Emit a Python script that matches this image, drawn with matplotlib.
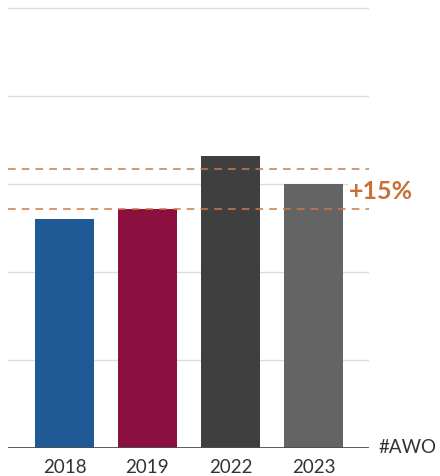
import matplotlib
matplotlib.use('Agg')
import matplotlib.pyplot as plt

years = ['2018', '2019', '2022', '2023']
values = [2.60, 2.72, 3.32, 3.00]
colors = ['#1f5a96', '#8b1040', '#3f3f3f', '#646464']
ref_low = 2.72
ref_high = 3.17
grid_levels = [1, 2, 3, 4, 5]

plt.rcParams['font.family'] = ['Lato', 'DejaVu Sans']

fig = plt.figure(figsize=(4.4, 4.77), dpi=100)
ax = fig.add_axes([8 / 440, 1 - 449 / 477, (369 - 8) / 440, 449 / 477])

for g in grid_levels:
    ax.axhline(g, color='#dcdcdc', linewidth=1.0, zorder=0)

x = range(len(years))
ax.bar(x, values, width=0.71, color=colors, zorder=2)

for lvl in (ref_low, ref_high):
    ax.axhline(lvl, color='#cc7a45', linewidth=1.1, linestyle=(0, (5, 4)), zorder=3)

ax.axhline(0, color='#4d4d4d', linewidth=2, zorder=4)

ax.set_xlim(-0.68, 3.67)
ax.set_ylim(0, 5.1)
ax.set_xticks(list(x))
ax.set_xticklabels(years, fontsize=13.5, color='#333333')
ax.tick_params(axis='x', length=0, pad=7)
ax.set_yticks([])
for s in ax.spines.values():
    s.set_visible(False)

# label sits between the two dashed reference lines, covering the gridline
ax.text(0.943, 2.93, '+15%', transform=ax.get_yaxis_transform(),
        fontsize=18, fontweight='bold', color='#c87137', va='center', ha='left',
        zorder=5, bbox=dict(facecolor='white', edgecolor='none', pad=0.5))
ax.text(1.025, 0.02, '#AWO', transform=ax.get_yaxis_transform(),
        fontsize=13.5, color='#333333', va='center', ha='left')

fig.savefig('out.png', dpi=100)
